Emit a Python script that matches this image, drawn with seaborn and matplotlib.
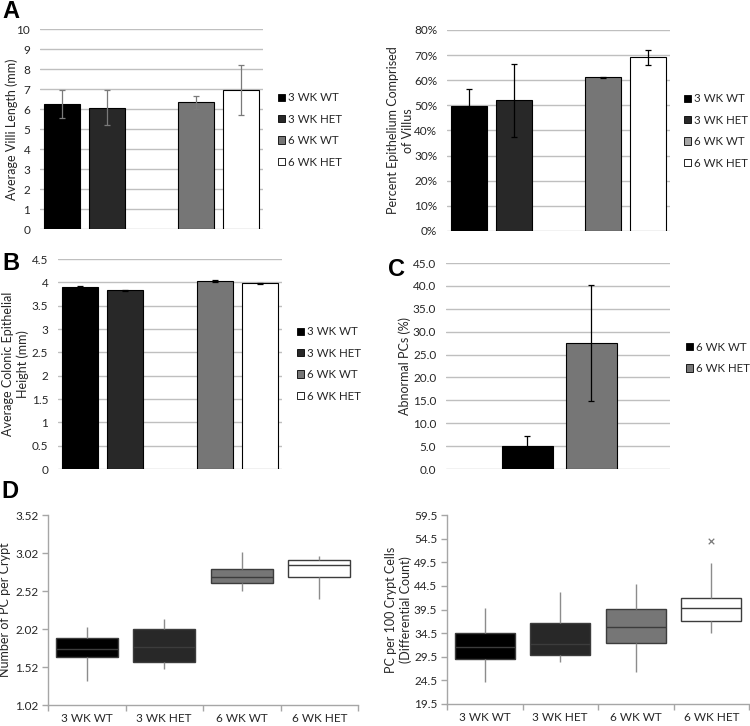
import numpy as np
import pandas as pd
import seaborn as sns
import matplotlib.pyplot as plt
from matplotlib.patches import Patch

# groups and colours
groups = ["3 WK WT", "3 WK HET", "6 WK WT", "6 WK HET"]
colors = ["#000000", "#282828", "#767676", "#ffffff"]

# A left: villi length (mm)
villi_mean = [6.25, 6.07, 6.33, 6.95]
villi_err = [0.70, 0.88, 0.33, 1.25]

# A right: percent epithelium comprised of villus
pct_villus_mean = [0.497, 0.520, 0.611, 0.691]
pct_villus_err = [0.068, 0.145, 0.003, 0.030]

# B: colonic epithelial height (mm)
colon_mean = [3.90, 3.83, 4.02, 3.98]
colon_err = [0.03, 0.01, 0.02, 0.01]

# C: abnormal PCs (%)
abn_groups = ["6 WK WT", "6 WK HET"]
abn_colors = ["#000000", "#767676"]
abn_mean = [5.0, 27.5]
abn_err = [2.2, 12.7]

# D left: number of PC per crypt (min, q1, median, q3, max)
pc_crypt = {
    "3 WK WT": [1.34, 1.65, 1.76, 1.90, 2.04],
    "3 WK HET": [1.49, 1.58, 1.78, 2.02, 2.15],
    "6 WK WT": [2.52, 2.62, 2.71, 2.81, 3.03],
    "6 WK HET": [2.42, 2.71, 2.86, 2.93, 2.98],
}

# D right: PC per 100 crypt cells (min, q1, median, q3, max) + outliers
pc_100 = {
    "3 WK WT": [24.2, 29.0, 31.5, 34.6, 39.8],
    "3 WK HET": [28.3, 29.9, 32.3, 36.7, 43.1],
    "6 WK WT": [26.3, 32.5, 35.8, 39.7, 45.0],
    "6 WK HET": [34.6, 37.1, 39.8, 41.9, 49.3],
}
pc_100_outliers = {"6 WK HET": [54.1]}

sns.set_theme(style="white")
plt.rcParams['font.family'] = ['Lato', 'DejaVu Sans']

W, H = 750, 726
fig = plt.figure(figsize=(W / 100, H / 100), dpi=100)
TXT = "#262626"
GRID = "#bfbfbf"


def px_axes(x0, y0, x1, y1):
    return fig.add_axes([x0 / W, 1 - y1 / H, (x1 - x0) / W, (y1 - y0) / H])


def set_ylabel(ax, box, text, right_x):
    # label lines are placed one by one so their spacing is exact
    lines = text.split("\n")
    ycen = 1 - (box[1] + box[3]) / 2 / H
    step = 15
    for i, line in enumerate(lines):
        x = right_x - (len(lines) - 1 - i) * step
        fig.text(x / W, ycen, line, rotation=90, fontsize=9, color=TXT,
                 ha="right", va="center", rotation_mode="default")
    ax.set_ylabel("")


def bar_panel(box, names, means, errs, cols, order, xlim, ylim, yticks, ylabel,
              label_x, err_color="black"):
    ax = px_axes(*box)
    df = pd.DataFrame({"group": names, "value": means})
    sns.barplot(data=df, x="group", y="value", hue="group", order=order,
                palette=dict(zip(names, cols)), saturation=1, errorbar=None,
                dodge=False, legend=False, edgecolor="black", linewidth=0.8,
                width=0.8, ax=ax, zorder=3)
    xpos = [order.index(n) for n in names]
    ax.errorbar(xpos, means, yerr=errs, fmt="none", ecolor=err_color,
                elinewidth=0.9, capsize=2.5, capthick=0.9, zorder=4)
    ax.set_xlim(*xlim)
    ax.set_ylim(*ylim)
    ax.set_yticks(yticks)
    ax.set_xticks([])
    ax.set_xlabel("")
    set_ylabel(ax, box, ylabel, label_x)
    ax.yaxis.grid(True, color=GRID, linewidth=1, zorder=0)
    ax.set_axisbelow(True)
    for s in ax.spines.values():
        s.set_visible(False)
    ax.tick_params(axis="y", length=0, pad=7, labelsize=8.5, labelcolor=TXT)
    return ax


def add_legend(names, cols, x, yc):
    handles = [Patch(facecolor=c, edgecolor="black", linewidth=0.6) for c in cols]
    fig.legend(handles, names, loc="center left", bbox_to_anchor=(x / W, 1 - yc / H),
               frameon=False, fontsize=8.3, handlelength=0.6, handleheight=0.6,
               handletextpad=0.25, labelspacing=0.9, borderpad=0, borderaxespad=0,
               labelcolor=TXT)


order_gap = ["3 WK WT", "3 WK HET", " ", "6 WK WT", "6 WK HET"]

# A left
ax = bar_panel((40, 29, 263, 229), groups, villi_mean, villi_err, colors, order_gap,
               (-0.5, 4.5), (0, 10), range(0, 11), "Average Villi Length (mm)", 18,
               err_color="#7a7a7a")
add_legend(groups, colors, 278, 130)

# A right
ax = bar_panel((447, 30, 670, 231), groups, pct_villus_mean, pct_villus_err, colors,
               order_gap, (-0.5, 4.5), (0, 0.8), np.arange(0, 0.81, 0.1),
               "Percent Epithelium Comprised\nof Villus", 414)
ax.set_yticklabels([f"{int(round(t * 100))}%" for t in np.arange(0, 0.81, 0.1)])
add_legend(groups, ["#000000", "#282828", "#a6a6a6", "#ffffff"], 684, 131)

# B
ax = bar_panel((58, 259, 282, 469), groups, colon_mean, colon_err, colors, order_gap,
               (-0.5, 4.5), (0, 4.5), np.arange(0, 4.51, 0.5),
               "Average Colonic Epithelial\nHeight (mm)", 29)
ax.set_yticklabels([f"{t:g}" for t in np.arange(0, 4.51, 0.5)])
add_legend(groups, colors, 297, 364)

# C
ax = bar_panel((446, 263, 670, 469), abn_groups, abn_mean, abn_err, abn_colors,
               abn_groups, (-1.27, 2.23), (0, 45), np.arange(0, 45.1, 5),
               "Abnormal PCs (%)", 411)
ax.set_yticklabels([f"{t:.1f}" for t in np.arange(0, 45.1, 5)])
add_legend(abn_groups, abn_colors, 686, 358)


def box_panel(box, stats, outliers, ylim, yticks, fmt, ylabel, label_x):
    ax = px_axes(*box)
    df = pd.DataFrame([(g, v) for g in groups for v in stats[g]], columns=["group", "value"])
    sns.boxplot(data=df, x="group", y="value", hue="group", order=groups,
                palette=dict(zip(groups, colors)), saturation=1, legend=False,
                width=0.8, whis=(0, 100), linecolor="#3c3c3c", linewidth=1,
                showcaps=False, whiskerprops=dict(color="#8c8c8c", linewidth=1),
                ax=ax)
    if outliers:
        odf = pd.DataFrame([(g, v) for g, vs in outliers.items() for v in vs],
                           columns=["group", "value"])
        sns.stripplot(data=odf, x="group", y="value", order=groups, jitter=False,
                      marker="x", color="#7a7a7a", size=4, linewidth=0.9, ax=ax)
    ax.set_ylim(*ylim)
    ax.set_yticks(yticks)
    ax.set_yticklabels([fmt.format(t) for t in yticks])
    ax.set_xlim(-0.5, 3.5)
    ax.set_xticks(range(4))
    ax.set_xticklabels(groups)
    ax.set_xticks(np.arange(-0.5, 3.6, 1), minor=True)
    ax.set_xlabel("")
    set_ylabel(ax, box, ylabel, label_x)
    for s in ["top", "right"]:
        ax.spines[s].set_visible(False)
    for s in ["left", "bottom"]:
        ax.spines[s].set_color("#a6a6a6")
        ax.spines[s].set_linewidth(1)
    ax.tick_params(axis="y", which="major", left=True, length=4, width=1,
                   color="#a6a6a6", pad=3, labelsize=8.5, labelcolor=TXT)
    ax.tick_params(axis="x", which="major", length=0, pad=6, labelsize=8.5,
                   labelcolor=TXT)
    ax.tick_params(axis="x", which="minor", bottom=True, length=4, width=1,
                   color="#a6a6a6")
    return ax


box_panel((48, 515, 358, 705), pc_crypt, None, (1.02, 3.52),
          np.arange(1.02, 3.53, 0.5), "{:.2f}", "Number of PC per Crypt", 11)
box_panel((447, 515, 749, 704), pc_100, pc_100_outliers, (19.5, 59.5),
          np.arange(19.5, 59.6, 5), "{:.1f}",
          "PC per 100 Crypt Cells\n(Differential Count)", 412)

# panel letters
for letter, x, y in [("A", 2, 11), ("B", 2, 264), ("C", 388, 269), ("D", 1, 492)]:
    fig.text(x / W, 1 - y / H, letter, fontsize=17, fontweight="bold",
             family="Liberation Sans", va="center", ha="left", color="black")

plt.savefig("out.png", dpi=100)
